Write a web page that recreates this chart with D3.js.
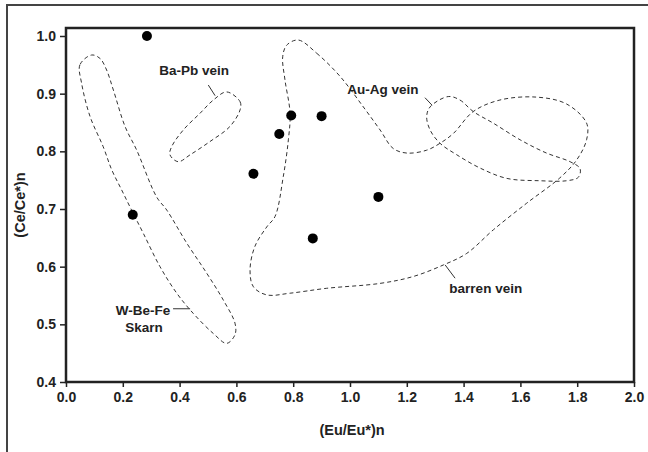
<!DOCTYPE html>
<html><head><meta charset="utf-8">
<script src="https://cdn.jsdelivr.net/npm/d3@7"></script>
<style>body{margin:0;background:#fff;}svg{display:block;font-family:"Liberation Sans",Arial,sans-serif;}</style>
</head><body>
<script>
// ---- data ----
const xTicks = [0.0,0.2,0.4,0.6,0.8,1.0,1.2,1.4,1.6,1.8,2.0];
const yTicks = [0.4,0.5,0.6,0.7,0.8,0.9,1.0];
const euRatio = [0.285,0.235,0.66,0.751,0.793,0.90,1.10,0.869];
const ceRatio = [1.00,0.69,0.761,0.83,0.862,0.861,0.721,0.649];

const skarnField = [[0.090,0.967],[0.049,0.950],[0.055,0.918],[0.085,0.860],[0.131,0.808],[0.161,0.768],[0.196,0.733],[0.231,0.698],[0.272,0.658],[0.331,0.600],[0.390,0.554],[0.448,0.519],[0.519,0.484],[0.566,0.467],[0.595,0.482],[0.595,0.502],[0.554,0.542],[0.495,0.589],[0.425,0.641],[0.355,0.698],[0.319,0.721],[0.249,0.802],[0.208,0.843],[0.167,0.906],[0.143,0.941],[0.120,0.961]];
const baPbField = [[0.566,0.903],[0.613,0.886],[0.613,0.872],[0.577,0.843],[0.507,0.817],[0.437,0.794],[0.395,0.782],[0.366,0.794],[0.372,0.808],[0.413,0.837],[0.472,0.866],[0.519,0.889]];
const barrenField = [[0.818,0.993],[0.883,0.970],[0.965,0.930],[1.047,0.877],[1.106,0.837],[1.152,0.805],[1.200,0.797],[1.270,0.802],[1.317,0.814],[1.364,0.831],[1.434,0.869],[1.528,0.889],[1.657,0.894],[1.763,0.882],[1.833,0.849],[1.833,0.820],[1.798,0.785],[1.739,0.754],[1.622,0.710],[1.505,0.664],[1.411,0.623],[1.329,0.603],[1.223,0.583],[1.106,0.571],[0.918,0.5625],[0.789,0.554],[0.707,0.551],[0.660,0.565],[0.648,0.594],[0.665,0.635],[0.707,0.669],[0.736,0.687],[0.765,0.756],[0.783,0.820],[0.789,0.866],[0.771,0.924],[0.763,0.964],[0.777,0.984]];
const auAgField = [[1.346,0.895],[1.387,0.889],[1.434,0.869],[1.504,0.849],[1.599,0.820],[1.692,0.797],[1.775,0.782],[1.810,0.770],[1.804,0.755],[1.763,0.749],[1.669,0.749],[1.553,0.753],[1.458,0.771],[1.376,0.794],[1.317,0.814],[1.282,0.837],[1.270,0.860],[1.282,0.877]];

const fieldLabels = [
  {text:"Ba-Pb vein", x:0.451, y:0.941},
  {text:"Au-Ag vein", x:1.116, y:0.908},
  {text:"barren vein", x:1.478, y:0.5625},
  {text:"W-Be-Fe", x:0.271, y:0.524},
  {text:"Skarn", x:0.275, y:0.495}
];
const leaders = [
  [[0.501,0.915],[0.525,0.8965]],
  [[1.264,0.893],[1.289,0.880]],
  [[1.335,0.603],[1.370,0.580]],
  [[0.377,0.527],[0.437,0.527]]
];

// ---- drawing ----
const W = 648, H = 452;
const svg = d3.select("body").append("svg").attr("width",W).attr("height",H);
const L = 66, R = 634, T = 28, B = 382;
const x = d3.scaleLinear().domain([0,2]).range([L,R]);
const yTop = 0.4 + (B - T) / (346/0.6);
const y = d3.scaleLinear().domain([0.4, yTop]).range([B,T]);

// outer frame
svg.append("rect").attr("x",7).attr("y",5).attr("width",700).attr("height",500)
  .attr("fill","none").attr("stroke","#444").attr("stroke-width",2);

// fields
const line = d3.line().x(d=>x(d[0])).y(d=>y(d[1])).curve(d3.curveCatmullRomClosed.alpha(0.5));
const g = svg.append("g");
[skarnField, baPbField, barrenField, auAgField].forEach(f=>{
  g.append("path").attr("d", line(f)).attr("fill","none")
   .attr("stroke","#333").attr("stroke-width",1).attr("stroke-dasharray","4,3");
});
leaders.forEach(l=>{
  g.append("line").attr("x1",x(l[0][0])).attr("y1",y(l[0][1]))
   .attr("x2",x(l[1][0])).attr("y2",y(l[1][1])).attr("stroke","#333").attr("stroke-width",1);
});
fieldLabels.forEach(d=>{
  g.append("text").attr("x",x(d.x)).attr("y",y(d.y)).attr("dy","0.35em")
   .attr("text-anchor","middle").attr("font-size","13.5px").attr("font-weight","bold")
   .attr("fill","#222").text(d.text);
});

// points
svg.append("g").selectAll("circle").data(euRatio.map((e,i)=>[e,ceRatio[i]])).join("circle")
  .attr("cx",d=>x(d[0])).attr("cy",d=>y(d[1])).attr("r",5).attr("fill","#000");

// axes
const xAxis = svg.append("g").attr("transform",`translate(0,${B})`)
  .call(d3.axisBottom(x).tickValues(xTicks).tickFormat(d3.format(".1f")).tickSize(5).tickSizeOuter(0).tickPadding(5));
const yAxis = svg.append("g").attr("transform",`translate(${L},0)`)
  .call(d3.axisLeft(y).tickValues(yTicks).tickFormat(d3.format(".1f")).tickSize(6).tickSizeOuter(0).tickPadding(4));
[xAxis,yAxis].forEach(a=>{
  a.select(".domain").remove();
  a.selectAll("line").attr("stroke","#222").attr("stroke-width",1.5);
  a.selectAll("text").attr("font-size","14px").attr("font-weight","bold").attr("fill","#222")
   .attr("font-family","'Liberation Sans',Arial,sans-serif");
});
// plot frame
svg.append("rect").attr("x",L).attr("y",T).attr("width",R-L).attr("height",B-T)
  .attr("fill","none").attr("stroke","#222").attr("stroke-width",2.5);

// axis titles
svg.append("text").attr("x",352).attr("y",435).attr("text-anchor","middle")
  .attr("font-size","14.5px").attr("font-weight","bold").attr("fill","#222").text("(Eu/Eu*)n");
svg.append("text").attr("transform","translate(25,205) rotate(-90)").attr("text-anchor","middle")
  .attr("font-size","14.5px").attr("font-weight","bold").attr("fill","#222").text("(Ce/Ce*)n");
</script>
</body></html>
